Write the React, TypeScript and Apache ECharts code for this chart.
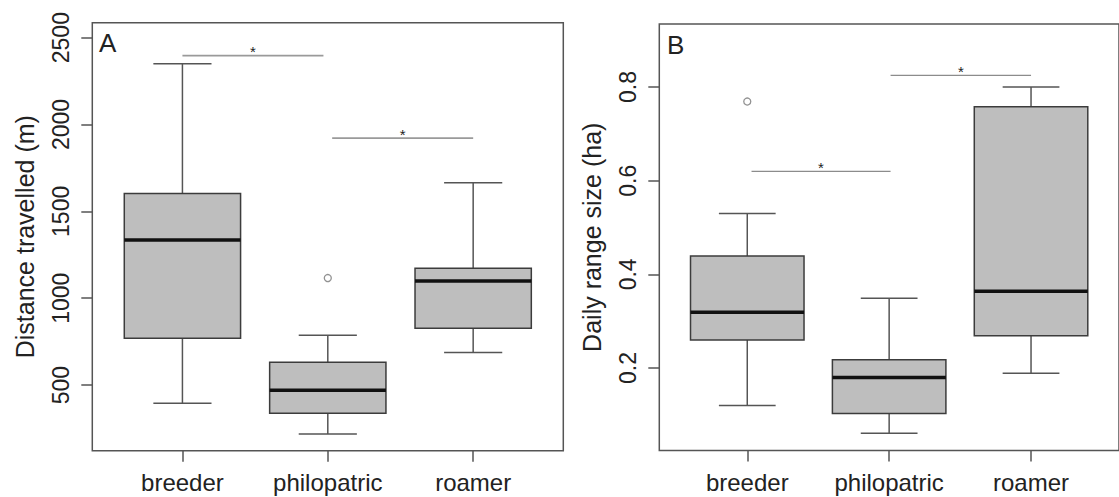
import React, { useEffect, useRef } from 'react';
import * as echarts from 'echarts';

// ---------- data ----------
const categories = ['breeder', 'philopatric', 'roamer'];

// Panel A: Distance travelled (m)
const distanceMin = [395, 218, 688];
const distanceQ1 = [769, 337, 827];
const distanceMedian = [1335, 470, 1099];
const distanceQ3 = [1602, 631, 1172];
const distanceMax = [2349, 786, 1665];
const distanceOutliers = [[2, 1116]];
const distanceTicks = [500, 1000, 1500, 2000, 2500];
// [from x, to x, y]
const distanceSig = [
  [1, 1.97, 2396],
  [2.03, 3, 1921],
];

// Panel B: Daily range size (ha)
const rangeMin = [0.12, 0.061, 0.189];
const rangeQ1 = [0.26, 0.103, 0.269];
const rangeMedian = [0.319, 0.18, 0.364];
const rangeQ3 = [0.439, 0.218, 0.758];
const rangeMax = [0.53, 0.349, 0.8];
const rangeOutliers = [[1, 0.769]];
const rangeTicks = [0.2, 0.4, 0.6, 0.8];
const rangeSig = [
  [1.03, 2.01, 0.62],
  [2.01, 3, 0.825],
];

const categoryPositions = [1, 2, 3];

// ---------- styles ----------
const FONT = '"Liberation Sans", Arial, Helvetica, sans-serif';
const TEXT = '#222';
const FRAME = '#555';
const BOX_HALF = 0.4;
const CAP_HALF = 0.2;

function buildBoxData(mn: number[], q1: number[], md: number[], q3: number[], mx: number[]) {
  return categories.map((_, i) => [i + 1, mn[i], q1[i], md[i], q3[i], mx[i]]);
}

function renderBox(params: any, api: any) {
  const x = api.value(0);
  const lo = api.value(1);
  const q1 = api.value(2);
  const md = api.value(3);
  const q3 = api.value(4);
  const hi = api.value(5);
  const tl = api.coord([x - BOX_HALF, q3]);
  const br = api.coord([x + BOX_HALF, q1]);
  const cHi = api.coord([x, hi]);
  const cLo = api.coord([x, lo]);
  const cQ3 = api.coord([x, q3]);
  const cQ1 = api.coord([x, q1]);
  const capHiL = api.coord([x - CAP_HALF, hi]);
  const capHiR = api.coord([x + CAP_HALF, hi]);
  const capLoL = api.coord([x - CAP_HALF, lo]);
  const capLoR = api.coord([x + CAP_HALF, lo]);
  const mL = api.coord([x - BOX_HALF, md]);
  const mR = api.coord([x + BOX_HALF, md]);
  const ws = { stroke: '#555', lineWidth: 1.5, fill: 'none' };
  return {
    type: 'group',
    children: [
      { type: 'line', shape: { x1: cQ3[0], y1: cQ3[1], x2: cHi[0], y2: cHi[1] }, style: ws },
      { type: 'line', shape: { x1: cQ1[0], y1: cQ1[1], x2: cLo[0], y2: cLo[1] }, style: ws },
      { type: 'line', shape: { x1: capHiL[0], y1: capHiL[1], x2: capHiR[0], y2: capHiR[1] }, style: ws },
      { type: 'line', shape: { x1: capLoL[0], y1: capLoL[1], x2: capLoR[0], y2: capLoR[1] }, style: ws },
      {
        type: 'rect',
        shape: { x: tl[0], y: tl[1], width: br[0] - tl[0], height: br[1] - tl[1] },
        style: { fill: '#bebebe', stroke: '#3c3c3c', lineWidth: 1.5 },
      },
      {
        type: 'line',
        shape: { x1: mL[0], y1: mL[1], x2: mR[0], y2: mR[1] },
        style: { stroke: '#111', lineWidth: 3.5 },
      },
    ],
  };
}

function makeSigRenderer(lineWidth: number, color: string) {
  return (params: any, api: any) => {
    const x1 = api.value(0);
    const x2 = api.value(1);
    const y = api.value(2);
    const p1 = api.coord([x1, y]);
    const p2 = api.coord([x2, y]);
    const mid = api.coord([(x1 + x2) / 2, y]);
    return {
      type: 'group',
      children: [
        {
          type: 'line',
          shape: { x1: p1[0], y1: p1[1], x2: p2[0], y2: p2[1] },
          style: { stroke: color, lineWidth },
        },
        {
          type: 'text',
          x: mid[0],
          y: mid[1] - 4,
          style: {
            text: '*',
            fontSize: 15,
            fontFamily: FONT,
            fill: TEXT,
            align: 'center',
            textAlign: 'center',
            verticalAlign: 'middle',
            textVerticalAlign: 'middle',
          },
        },
      ],
    };
  };
}

function xAxisFor(gridIndex: number) {
  return {
    type: 'value',
    gridIndex,
    min: 0.38,
    max: 3.62,
    axisLine: { show: false },
    splitLine: { show: false },
    axisTick: {
      show: true,
      customValues: categoryPositions,
      length: 11,
      lineStyle: { color: FRAME, width: 1.5 },
    },
    axisLabel: {
      customValues: categoryPositions,
      formatter: (v: number) => categories[Math.round(v) - 1] ?? '',
      fontSize: 24,
      fontFamily: FONT,
      color: TEXT,
      margin: 20,
    },
  };
}

function yAxisFor(gridIndex: number, name: string, min: number, max: number, ticks: number[], fmt: (v: number) => string) {
  return {
    type: 'value',
    gridIndex,
    min,
    max,
    name,
    nameLocation: 'middle',
    nameRotate: 90,
    nameGap: 55,
    nameTextStyle: { fontSize: 25, fontFamily: FONT, color: TEXT },
    axisLine: { show: false },
    splitLine: { show: false },
    axisTick: {
      show: true,
      customValues: ticks,
      length: 11,
      lineStyle: { color: FRAME, width: 1.5 },
    },
    axisLabel: {
      customValues: ticks,
      rotate: 90,
      formatter: fmt,
      fontSize: 23,
      fontFamily: FONT,
      color: TEXT,
      margin: 20,
    },
  };
}

export default function App() {
  const ref = useRef<HTMLDivElement>(null);

  useEffect(() => {
    if (!ref.current) return;
    const chart = echarts.init(ref.current, undefined, { renderer: 'svg' });
    const option: any = {
      animation: false,
      backgroundColor: '#ffffff',
      textStyle: { fontFamily: FONT },
      grid: [
        { left: 92.3, top: 22.7, width: 471, height: 428, show: true, borderColor: FRAME, borderWidth: 1.5, backgroundColor: 'transparent' },
        { left: 659.3, top: 24, width: 466.6, height: 426.5, show: true, borderColor: FRAME, borderWidth: 1.5, backgroundColor: 'transparent' },
      ],
      xAxis: [xAxisFor(0), xAxisFor(1)],
      yAxis: [
        yAxisFor(0, 'Distance travelled (m)', 122, 2586, distanceTicks, (v: number) => String(Math.round(v))),
        yAxisFor(1, 'Daily range size (ha)', 0.024, 0.9345, rangeTicks, (v: number) => v.toFixed(1)),
      ],
      graphic: [
        { type: 'text', x: 99, y: 43, style: { text: 'A', fontSize: 26, fontFamily: FONT, fill: TEXT, align: 'left', verticalAlign: 'middle' } },
        { type: 'text', x: 667, y: 44.5, style: { text: 'B', fontSize: 26, fontFamily: FONT, fill: TEXT, align: 'left', verticalAlign: 'middle' } },
      ],
      series: [
        {
          type: 'custom',
          xAxisIndex: 0,
          yAxisIndex: 0,
          renderItem: renderBox,
          encode: { x: 0, y: [1, 2, 3, 4, 5] },
          data: buildBoxData(distanceMin, distanceQ1, distanceMedian, distanceQ3, distanceMax),
          z: 2,
        },
        {
          type: 'scatter',
          xAxisIndex: 0,
          yAxisIndex: 0,
          symbol: 'circle',
          symbolSize: 7,
          itemStyle: { color: '#ffffff', borderColor: '#777', borderWidth: 1.3 },
          data: distanceOutliers,
          z: 3,
        },
        {
          type: 'custom',
          xAxisIndex: 0,
          yAxisIndex: 0,
          renderItem: makeSigRenderer(1.8, '#9a9a9a'),
          encode: { x: [0, 1], y: 2 },
          data: distanceSig,
          z: 3,
        },
        {
          type: 'custom',
          xAxisIndex: 1,
          yAxisIndex: 1,
          renderItem: renderBox,
          encode: { x: 0, y: [1, 2, 3, 4, 5] },
          data: buildBoxData(rangeMin, rangeQ1, rangeMedian, rangeQ3, rangeMax),
          z: 2,
        },
        {
          type: 'scatter',
          xAxisIndex: 1,
          yAxisIndex: 1,
          symbol: 'circle',
          symbolSize: 7,
          itemStyle: { color: '#ffffff', borderColor: '#777', borderWidth: 1.3 },
          data: rangeOutliers,
          z: 3,
        },
        {
          type: 'custom',
          xAxisIndex: 1,
          yAxisIndex: 1,
          renderItem: makeSigRenderer(1.3, '#8c8c8c'),
          encode: { x: [0, 1], y: 2 },
          data: rangeSig,
          z: 3,
        },
      ],
    };
    chart.setOption(option);
    return () => chart.dispose();
  }, []);

  return (
    <div
      ref={ref}
      style={{ position: 'fixed', left: 0, top: 0, width: 1119, height: 497, background: '#fff' }}
    />
  );
}
